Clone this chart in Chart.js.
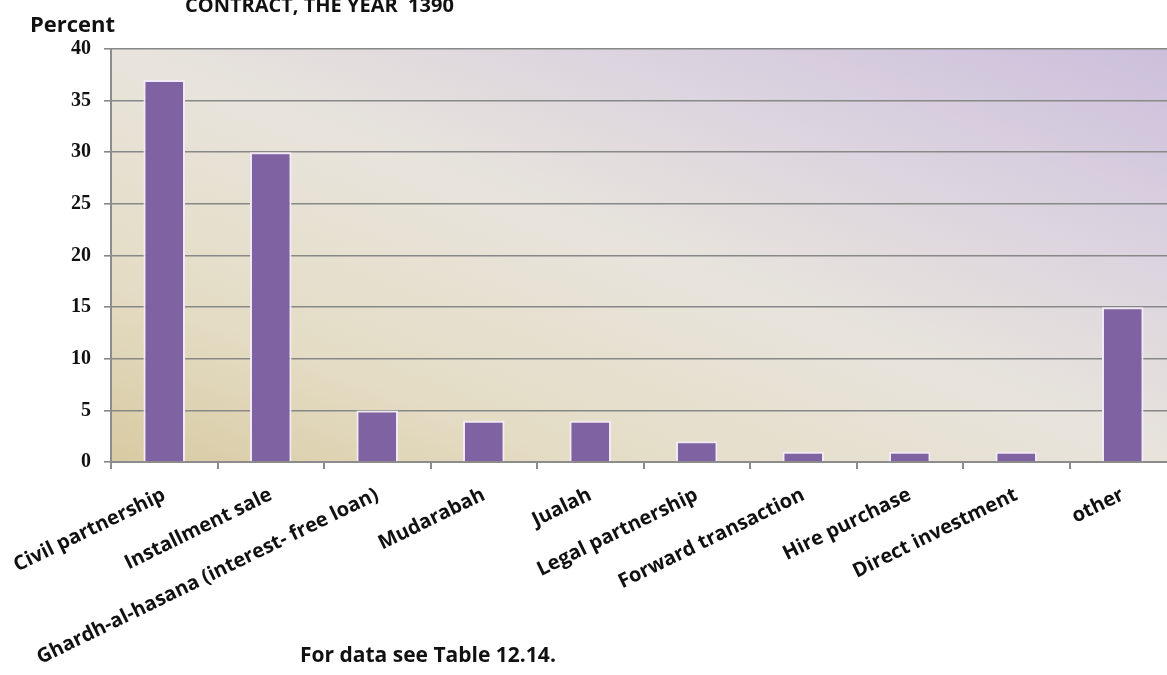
<!DOCTYPE html>
<html lang="en">
<head>
    <meta charset="UTF-8">
    <title>Contracts 1390</title>
    <script src="https://cdn.jsdelivr.net/npm/chart.js"></script>
    <style>
        html, body { margin: 0; padding: 0; background: #fff; overflow: hidden; }
        #wrap { position: relative; width: 1176px; height: 675px; }
    </style>
</head>
<body>
    <div id="wrap">
        <canvas id="contractChart" width="1176" height="675"></canvas>
    </div>
    <script>
        const categories = [
            'Civil partnership',
            'Installment sale',
            'Ghardh-al-hasana (interest- free loan)',
            'Mudarabah',
            'Jualah',
            'Legal partnership',
            'Forward transaction',
            'Hire purchase',
            'Direct investment',
            'other'
        ];
        const percentValues = [37, 30, 5, 4, 4, 2, 1, 1, 1, 15];
        const yMin = 0;
        const yMax = 40;
        const yStep = 5;

        const titleText = 'CONTRACT, THE YEAR  1390';
        const yAxisText = 'Percent';
        const footnoteText = 'For data see Table 12.14.';

        // plot area fill: tan at bottom-left, pale in the middle, lilac at top-right
        const plotBackground = {
            id: 'plotBackground',
            beforeDraw(chart) {
                const { ctx, chartArea: a } = chart;
                ctx.save();
                ctx.translate(a.left, a.top);
                ctx.scale(a.right - a.left, a.bottom - a.top);
                const g = ctx.createLinearGradient(0, 1, 1, 0);
                g.addColorStop(0, '#d8caa2');
                g.addColorStop(0.22, '#e4dcc4');
                g.addColorStop(0.5, '#e8e4dc');
                g.addColorStop(0.78, '#d9d0df');
                g.addColorStop(1, '#cbbfdb');
                ctx.fillStyle = g;
                ctx.fillRect(0, 0, 1, 1);
                ctx.restore();
            }
        };

        // header, axis caption and source note
        const extraText = {
            id: 'extraText',
            afterDraw(chart) {
                const ctx = chart.ctx;
                ctx.save();
                ctx.fillStyle = '#111';
                ctx.textBaseline = 'alphabetic';
                ctx.textAlign = 'left';
                ctx.font = 'bold 20px "Open Sans"';
                ctx.fillText(titleText, 185, 12);
                ctx.font = 'bold 22px "Open Sans"';
                ctx.fillText(yAxisText, 30, 32);
                ctx.font = 'bold 21px "Open Sans"';
                ctx.fillText(footnoteText, 300, 662);
                ctx.restore();
            }
        };

        const ctx = document.getElementById('contractChart').getContext('2d');
        new Chart(ctx, {
            type: 'bar',
            data: {
                labels: categories,
                datasets: [{
                    data: percentValues,
                    backgroundColor: '#7f62a1',
                    borderColor: '#f2eaf6',
                    borderWidth: 2,
                    barPercentage: 0.39,
                    categoryPercentage: 1
                }]
            },
            options: {
                responsive: false,
                animation: false,
                layout: { padding: { top: 49, left: 0, right: 0, bottom: 0 } },
                plugins: {
                    legend: { display: false },
                    tooltip: { enabled: false }
                },
                scales: {
                    x: {
                        afterFit(scale) {
                            scale.height = 213;
                            // long rotated labels may run off the left edge
                            scale.paddingLeft = 0;
                            scale.paddingRight = 0;
                        },
                        grid: {
                            offset: true,
                            drawOnChartArea: false,
                            color: '#8c8c8c',
                            lineWidth: 2,
                            tickLength: 7
                        },
                        border: { color: '#8c8c8c', width: 2 },
                        ticks: {
                            autoSkip: false,
                            minRotation: 26,
                            maxRotation: 26,
                            padding: 14,
                            color: '#111',
                            font: { family: 'Open Sans', weight: 'bold', size: 20 }
                        }
                    },
                    y: {
                        min: yMin,
                        max: yMax,
                        afterFit(scale) { scale.width = 111; },
                        grid: {
                            color: '#888888',
                            lineWidth: 1.6,
                            tickLength: 7
                        },
                        border: { color: '#8c8c8c', width: 2 },
                        ticks: {
                            stepSize: yStep,
                            padding: 13,
                            color: '#111',
                            font: { family: 'Liberation Serif', weight: 'bold', size: 20 }
                        }
                    }
                }
            },
            plugins: [plotBackground, extraText]
        });
    </script>
</body>
</html>
